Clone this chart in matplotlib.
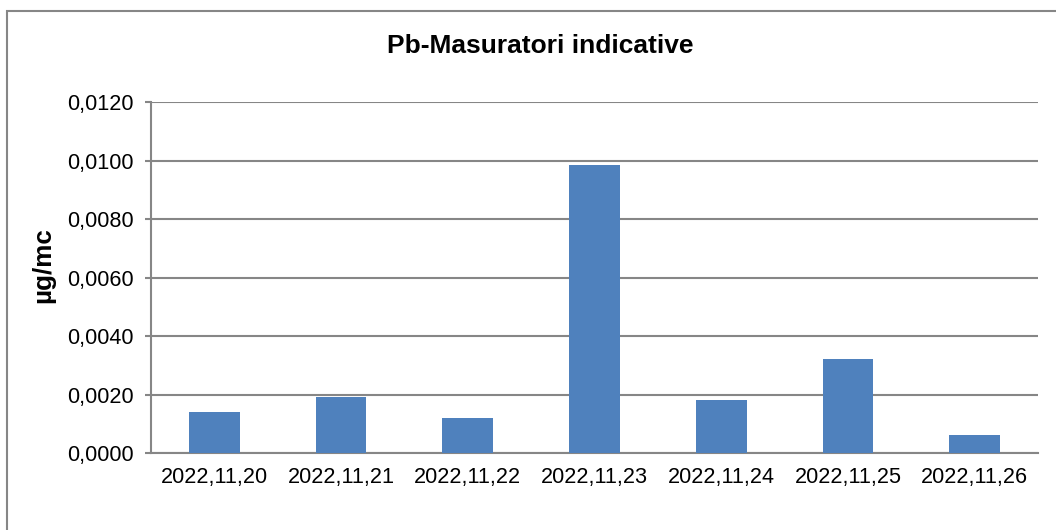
import matplotlib
matplotlib.use("Agg")
import matplotlib.pyplot as plt
from matplotlib.patches import Rectangle
from matplotlib.ticker import FuncFormatter

# data
dates = ["2022,11,20", "2022,11,21", "2022,11,22", "2022,11,23",
         "2022,11,24", "2022,11,25", "2022,11,26"]
pb = [0.00139, 0.00192, 0.00121, 0.00983, 0.00181, 0.00320, 0.00063]
yticks = [0.0, 0.002, 0.004, 0.006, 0.008, 0.010, 0.012]

plt.rcParams['font.family'] = ['Liberation Sans', 'DejaVu Sans']
grey = '#868686'

fig = plt.figure(figsize=(10.56, 5.30), dpi=100)
ax = fig.add_axes([151 / 1056, 1 - 453 / 530, 887 / 1056, 351 / 530])

x = range(len(dates))
ax.bar(x, pb, width=0.4, color='#4F81BD', zorder=3)

ax.set_xlim(-0.5, len(dates) - 0.5)
ax.set_ylim(0, 0.012)
ax.set_yticks(yticks)
ax.yaxis.set_major_formatter(FuncFormatter(lambda v, p: f"{v:.4f}".replace('.', ',')))
ax.set_xticks(list(x))
ax.set_xticklabels(dates)

ax.grid(axis='y', color=grey, linewidth=1.5, zorder=0)
for s in ['top', 'right']:
    ax.spines[s].set_visible(False)
for s in ['left', 'bottom']:
    ax.spines[s].set_color(grey)
    ax.spines[s].set_linewidth(1.5)
ax.tick_params(axis='y', length=4.5, width=1.5, color=grey, pad=8, labelsize=15.6)
ax.tick_params(axis='x', length=0, pad=10, labelsize=15.6)

fig.text(540 / 1056, 1 - 46 / 530, "Pb-Masuratori indicative",
         ha='center', va='center', fontsize=19, fontweight='bold')
fig.text(43 / 1056, 1 - 265 / 530, "µg/mc", rotation=90,
         ha='center', va='center', fontsize=18.7, fontweight='bold')

# outer chart-area frame, cut off at right and bottom
fig.patches.append(Rectangle((7 / 1056, -0.1), 1.2, 1.1 - 11 / 530,
                             transform=fig.transFigure, fill=False,
                             edgecolor=grey, linewidth=1.5))

fig.savefig("out.png", dpi=100)
